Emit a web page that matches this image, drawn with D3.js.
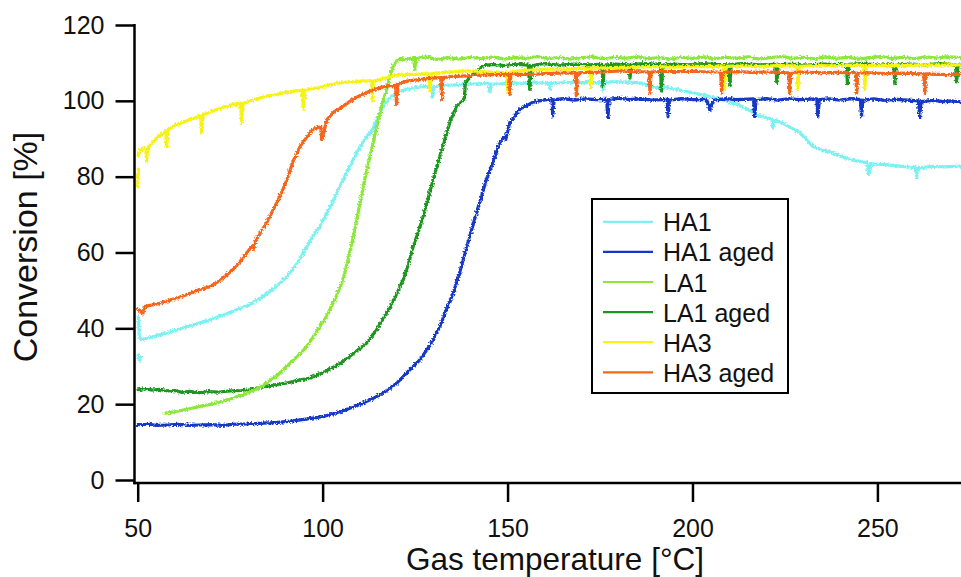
<!DOCTYPE html>
<html>
<head>
<meta charset="utf-8">
<script src="https://cdn.jsdelivr.net/npm/d3@7"></script>
<style>
  html, body { margin: 0; padding: 0; background: #fff; }
  svg { display: block; font-family: "Liberation Sans", Arial, sans-serif; }
</style>
</head>
<body>
<svg id="chart" width="961" height="577"></svg>
<script>
// Light-off curves: conversion [%] against gas temperature [°C].
// Each series is a list of [temperature, conversion]; null marks a break in the trace.
const seriesNames = ["HA1", "HA1 aged", "LA1", "LA1 aged", "HA3", "HA3 aged"];
const seriesColors = ["#7df0f2", "#1238c4", "#8ce73a", "#1c961f", "#f6f212", "#f5661c"];

const xTicks = [50, 100, 150, 200, 250];
const yTicks = [0, 20, 40, 60, 80, 100, 120];

const ha1 = [
  [50.1, 33.0], [50.5, 31.4], [50.9, 32.4], null,
  [50.2, 43.0], [50.4, 38.0], [50.8, 37.0], [54, 37.8], [57.9, 38.8], [62, 40.0], [66.8, 41.4],
  [71, 42.7], [75.8, 44.5], [80, 46.2], [83.9, 48.4], [87.5, 51.0], [90.4, 53.7], [93, 57.0],
  [95.8, 61.6], [97.5, 64.5], [99.3, 66.9], [102, 72.0], [104.7, 77.5], [105.6, 79.3],
  [107.5, 83.0], [109.2, 86.3], [111.2, 89.6], [113.5, 92.5], [116.4, 98.6], [118.2, 100.8],
  [120, 102.2], [122.5, 103.0], [125.4, 103.5], [127, 103.8], [129.6, 103.6], [129.8, 101.0],
  [130.1, 103.7], [133, 104.1], [136, 104.2], [138.9, 104.4], [142, 104.5], [145, 104.6],
  [145.2, 102.2], [145.5, 104.4], [148, 104.5], [151, 104.7], [154, 104.6], [156.8, 104.8],
  [161.2, 104.6], [161.4, 103.0], [161.7, 104.7], [164, 104.7], [167, 104.9], [171, 104.8],
  [175.6, 104.8], [175.8, 102.8], [176.1, 104.9], [178, 105.0], [180.4, 105.0], [183, 104.9],
  [185.2, 104.8], [186.5, 104.6], [189.8, 103.5], [193, 103.5], [197, 102.8], [202, 101.7],
  [206, 100.8], [210.9, 99.5], [214, 98.2], [218.2, 96.0], [221.5, 95.2], [221.7, 93.0],
  [222.2, 95.0], [225, 93.8], [229, 91.6], [232.5, 88.0], [235, 87.0], [237.9, 86.3],
  [241, 85.0], [244, 84.2], [247.1, 83.7], [247.7, 80.6], [248.3, 83.4], [252, 83.2],
  [256.1, 82.8], [259, 82.5], [260.4, 82.4], [260.6, 79.8], [261.2, 82.3], [265, 82.7],
  [268, 82.6], [272.6, 82.8]
];

const ha1Aged = [
  [50.1, 14.6], [53, 14.7], [55, 14.4], [57.8, 14.5], [61, 14.7], [64, 14.4], [66.8, 14.5],
  [70, 14.6], [73, 14.4], [76, 14.7], [80.4, 14.8], [84, 15.0], [88, 15.2], [92, 15.6],
  [96, 16.1], [100, 16.7], [104, 17.8], [107, 18.8], [110, 19.9], [113, 21.2], [116.5, 23.0],
  [120, 25.5], [123, 28.5], [126.3, 31.7], [129, 35.5], [131.7, 40.5], [133.5, 45.0],
  [135.3, 49.3], [137, 54.5], [138.5, 59.9], [140, 65.0], [141.6, 70.5], [143, 75.0],
  [144.3, 79.3], [146, 83.7], [147.9, 89.0], [149.2, 90.6], [149.5, 89.8], [150.6, 94.3],
  [153.3, 97.8], [156.8, 99.6], [159, 100.1], [161.4, 100.4], [162.0, 100.3], [162.2, 96.0],
  [162.6, 100.3], [165, 100.6], [168, 100.2], [171, 100.5], [174, 100.3], [176.8, 100.4],
  [177.1, 95.6], [177.5, 100.4], [180, 100.7], [183, 100.3], [186, 100.6], [189, 100.2],
  [193.1, 100.4], [193.4, 95.8], [193.8, 100.2], [197, 100.6], [200, 100.3], [203.8, 100.4],
  [204.7, 97.5], [205.4, 99.6], [206, 100.2], [209, 100.6], [212, 100.3], [216.5, 100.5],
  [216.8, 95.8], [217.2, 100.3], [220, 100.6], [223, 100.2], [226, 100.5], [229, 100.3],
  [233.6, 100.5], [233.9, 95.7], [234.3, 100.3], [237, 100.5], [240, 100.2], [243, 100.6],
  [245.4, 100.3], [245.7, 95.9], [246.1, 100.2], [249, 100.5], [252, 100.1], [255, 100.4],
  [258, 100.2], [261.1, 100.0], [261.4, 95.6], [261.8, 99.8], [265, 100.1], [268, 99.8],
  [270, 100.0], [272.6, 99.7]
];

const la1 = [
  [57.4, 17.6], [60, 18.0], [63, 18.6], [66.8, 19.4], [70, 20.0], [73, 20.7], [75.8, 21.6],
  [79, 22.7], [82, 23.9], [84.9, 25.6], [88, 27.8], [91.2, 30.8], [93.5, 32.9], [95.5, 35.0],
  [97.5, 37.8], [99.3, 40.6], [101.1, 43.2], [103.4, 47.8], [105.6, 53.0], [107.2, 59.5],
  [108.7, 66.0], [110, 72.5], [111.4, 79.3], [112.5, 84.0], [113.8, 89.5], [115, 95.0],
  [116.2, 99.5], [117.3, 103.0], [118.2, 106.5], [119.1, 109.2], [120, 110.5], [120.9, 111.2],
  [122.5, 110.8], [124.6, 111.4], [124.9, 108.3], [125.3, 111.2], [128, 111.6], [131, 110.9],
  [134, 111.4], [137, 111.0], [140, 111.5], [143, 111.1], [146, 111.6], [149, 111.0],
  [152, 111.4], [155, 111.2], [158, 111.7], [161, 111.1], [164, 111.5], [167, 111.0],
  [170, 111.4], [173, 111.6], [176, 111.1], [179, 111.5], [182, 111.2], [185, 111.7],
  [188, 111.1], [191, 111.4], [194, 111.0], [197, 111.5], [200, 111.2], [203, 111.6],
  [206, 111.1], [209, 111.5], [212, 111.2], [215, 111.6], [218, 111.0], [221, 111.4],
  [224, 111.7], [227, 111.2], [230, 111.5], [233, 111.1], [236, 111.6], [239, 111.2],
  [242, 111.5], [245, 111.0], [248, 111.4], [251, 111.7], [254, 111.2], [257, 111.5],
  [260, 111.1], [263, 111.6], [266, 111.3], [269, 111.6], [272.6, 111.4]
];

const la1Aged = [
  [50.1, 23.8], [52, 24.1], [54, 23.7], [56, 23.9], [58, 23.5], [60, 23.6], [62, 23.1],
  [64, 23.4], [66.8, 23.0], [69, 23.3], [72, 23.2], [75, 23.5], [78, 23.6], [80.4, 23.8],
  [83, 24.4], [86, 24.9], [90.4, 25.6], [93, 26.2], [96.6, 26.9], [100, 28.3], [103, 29.8],
  [105.6, 31.3], [108.5, 33.5], [111.9, 36.1], [114.5, 39.5], [117.3, 44.0], [119.5, 48.0],
  [121.8, 52.8], [123.2, 57.0], [124.5, 61.6], [125.9, 65.5], [127.2, 69.6], [128.6, 74.5],
  [129.9, 79.3], [131, 83.0], [132.2, 87.2], [133.4, 91.0], [134.4, 94.3], [135.3, 96.5],
  [136.2, 98.6], [137.3, 99.5], [138.3, 100.4], [138.6, 104.8], [140.6, 107.0], [143.3, 109.2],
  [146, 109.6], [149, 109.3], [152, 109.7], [155.6, 109.4], [156, 103.0], [156.4, 109.3],
  [160, 109.8], [164, 109.4], [168, 109.7], [172, 109.5], [175.5, 109.6], [175.8, 104.0],
  [176.2, 109.4], [179, 109.7], [182.8, 109.5], [183.1, 106.0], [183.5, 109.6], [187, 109.8],
  [191.3, 109.6], [191.6, 102.6], [192, 109.4], [195, 109.7], [199, 109.5], [203, 109.8],
  [206, 109.6], [209.8, 109.5], [210.1, 104.0], [210.5, 109.6], [214, 109.8], [218, 109.5],
  [222.5, 109.6], [222.8, 104.8], [223.2, 109.5], [227, 109.7], [231, 109.4], [235, 109.7],
  [238, 109.6], [241.6, 109.5], [241.9, 104.5], [242.3, 109.6], [246, 109.8], [250, 109.5],
  [254.4, 109.6], [254.7, 104.5], [255.1, 109.4], [259, 109.7], [263, 109.5], [267, 109.8],
  [271.1, 109.5], [271.4, 105.0], [271.8, 109.4], [272.6, 109.6]
];

const ha3 = [
  [50.0, 77.5], [50.1, 80.0], [50.2, 82.0], null,
  [50.1, 85.5], [50.5, 87.0], [52.2, 87.5], [52.4, 84.2], [52.7, 87.6], [54, 89.0], [55.5, 90.5],
  [57.6, 92.0], [57.8, 88.0], [58.2, 92.3], [60, 93.5], [62, 94.2], [64, 95.0], [67.0, 96.0],
  [67.3, 91.6], [67.7, 96.3], [69, 96.8], [71, 97.6], [73, 98.2], [75, 98.8], [77.8, 99.4],
  [78.1, 94.3], [78.5, 99.3], [81, 100.2], [84, 101.0], [87, 101.6], [90, 102.2], [94.5, 102.8],
  [94.8, 97.8], [95.2, 102.8], [97, 103.2], [99.3, 103.5], [102, 104.2], [105, 104.8],
  [108, 105.0], [111, 105.2], [113.3, 105.3], [113.5, 100.0], [113.8, 105.2], [117, 106.0],
  [120.9, 107.0], [124, 107.0], [128.7, 107.1], [129, 102.6], [129.4, 107.2], [133, 107.5],
  [136, 107.7], [138.9, 107.9], [142, 107.8], [146, 107.5], [149.8, 107.4], [150.1, 102.2],
  [150.5, 107.5], [154, 108.0], [158, 108.2], [162, 108.4], [166, 108.3], [170, 108.6],
  [172.2, 108.5], [172.5, 103.5], [172.8, 108.6], [176, 108.7], [180.4, 108.8], [185, 108.9],
  [190, 109.0], [195, 108.9], [200, 109.1], [205, 109.0], [208.5, 109.2], [208.7, 103.0],
  [209, 109.1], [213, 109.2], [218, 109.0], [223, 109.3], [228.3, 109.2], [228.5, 103.0],
  [228.8, 109.1], [233, 109.3], [238, 109.2], [242, 109.4], [246.4, 109.3], [246.6, 103.0],
  [246.9, 109.2], [251, 109.4], [256, 109.3], [261, 109.5], [266, 109.4], [272.6, 109.5]
];

const ha3Aged = [
  [50.1, 45.0], [50.8, 44.5], [51.4, 43.8], [51.7, 45.5], [53, 46.0], [56, 46.6], [59.5, 47.6],
  [63, 48.8], [66, 50.0], [69.5, 51.0], [72.5, 52.8], [75.8, 55.5], [78, 58.0], [80, 60.5],
  [80.8, 61.5], [81.2, 60.8], [82, 63.5], [84.9, 67.9], [86.5, 71.0], [88.5, 74.9], [90.4, 79.3],
  [92, 84.0], [93.9, 88.0], [95.6, 90.3], [97.4, 92.5], [99.5, 93.2], [99.7, 89.8], [100, 90.2],
  [101.1, 95.0], [103, 97.0], [105.5, 98.6], [108.5, 100.6], [111.9, 102.2], [114.5, 103.2],
  [117.3, 103.9], [119.7, 104.1], [120, 99.0], [120.4, 104.5], [122.7, 105.2], [126, 105.6],
  [129, 105.9], [131.9, 106.1], [132.2, 100.4], [132.5, 106.1], [135, 106.4], [138.9, 106.6],
  [142, 106.8], [146, 106.9], [150.3, 106.9], [150.6, 101.7], [150.9, 106.9], [153, 107.0],
  [156.8, 107.0], [160, 107.2], [164, 107.3], [168.3, 107.3], [168.6, 101.3], [168.9, 107.4],
  [172, 107.5], [176, 107.6], [180.4, 107.9], [184, 107.7], [188.2, 107.6], [188.5, 102.0],
  [188.8, 107.6], [192, 107.8], [196, 107.7], [200, 107.8], [204, 107.6], [207.6, 107.6],
  [207.9, 102.0], [208.2, 107.5], [212, 107.7], [216, 107.5], [220, 107.6], [226, 107.4],
  [226.3, 102.0], [226.6, 107.5], [230, 107.6], [235, 107.4], [240, 107.5], [244.1, 107.4],
  [244.4, 102.0], [244.7, 107.3], [248, 107.4], [252, 107.2], [256, 107.3], [262.5, 107.1],
  [262.8, 102.0], [263.1, 107.1], [266, 107.0], [269, 106.9], [272.6, 107.0]
];

const seriesData = [ha1, ha1Aged, la1, la1Aged, ha3, ha3Aged];
// Drawing order: later entries sit on top.
const drawOrder = [0, 1, 3, 2, 4, 5];

const W = 961, H = 577;
const svg = d3.select("#chart");

const x = d3.scaleLinear().domain([50, 272.6]).range([137.7, 961]);
const y = d3.scaleLinear().domain([0, 120]).range([480, 25]);
const axisX = 134.5;   // position of the vertical axis line
const axisY = 483;     // position of the horizontal axis line

// Ragged trace edges, like a noisy measurement trace.
const defs = svg.append("defs");
const filt = defs.append("filter").attr("id", "rough")
  .attr("x", "-5%").attr("y", "-5%").attr("width", "110%").attr("height", "110%");
filt.append("feTurbulence").attr("type", "fractalNoise").attr("baseFrequency", 0.55)
  .attr("numOctaves", 2).attr("seed", 7).attr("result", "n");
filt.append("feDisplacementMap").attr("in", "SourceGraphic").attr("in2", "n")
  .attr("scale", 4.2).attr("xChannelSelector", "R").attr("yChannelSelector", "G");

defs.append("clipPath").attr("id", "plotClip").append("rect")
  .attr("x", axisX).attr("y", 0).attr("width", W - axisX).attr("height", axisY);

const line = d3.line()
  .defined(d => d !== null)
  .x(d => x(d[0]))
  .y(d => y(d[1]));

const plot = svg.append("g").attr("clip-path", "url(#plotClip)");
drawOrder.forEach(i => {
  plot.append("path")
    .datum(seriesData[i])
    .attr("fill", "none")
    .attr("stroke", seriesColors[i])
    .attr("stroke-width", 3.2)
    .attr("stroke-linejoin", "round")
    .attr("stroke-linecap", "round")
    .attr("filter", "url(#rough)")
    .attr("d", line);
});

// Axes
const tickLen = 19;
const gx = svg.append("g").attr("transform", `translate(0,${axisY})`)
  .call(d3.axisBottom(x).tickValues(xTicks).tickSize(tickLen).tickPadding(17).tickFormat(d3.format("d")));
const gy = svg.append("g").attr("transform", `translate(${axisX},0)`)
  .call(d3.axisLeft(y).tickValues(yTicks).tickSize(tickLen).tickPadding(11).tickFormat(d3.format("d")));

[gx, gy].forEach(g => {
  g.select(".domain").remove();
  g.selectAll(".tick line").attr("stroke", "#000").attr("stroke-width", 2.5);
  g.selectAll(".tick text").attr("fill", "#111")
    .style("font-size", "25px").style("font-family", "'Liberation Sans', Arial, sans-serif");
});

svg.append("line").attr("x1", axisX).attr("x2", axisX)
  .attr("y1", y(120) - 1).attr("y2", axisY + 1.2)
  .attr("stroke", "#000").attr("stroke-width", 2.5);
svg.append("line").attr("x1", axisX - 1.2).attr("x2", W)
  .attr("y1", axisY).attr("y2", axisY)
  .attr("stroke", "#000").attr("stroke-width", 2.5);

// Axis titles
svg.append("text")
  .attr("x", 555).attr("y", 569.5)
  .attr("text-anchor", "middle")
  .style("font-size", "31.5px").attr("fill", "#111")
  .text("Gas temperature [°C]");

svg.append("text")
  .attr("transform", "translate(37,247) rotate(-90)")
  .attr("text-anchor", "middle")
  .style("font-size", "34px").attr("fill", "#111")
  .text("Conversion [%]");

// Legend
const lg = svg.append("g");
lg.append("rect")
  .attr("x", 592).attr("y", 199).attr("width", 196).attr("height", 194)
  .attr("fill", "#fff").attr("stroke", "#000").attr("stroke-width", 2);
seriesNames.forEach((name, i) => {
  const ly = 221.8 + i * 30.1;
  lg.append("line").attr("x1", 603).attr("x2", 653).attr("y1", ly).attr("y2", ly)
    .attr("stroke", seriesColors[i]).attr("stroke-width", 2.2);
  lg.append("text").attr("x", 663).attr("y", ly + 9.5)
    .style("font-size", "25px").attr("fill", "#111")
    .text(name);
});
</script>
</body>
</html>
